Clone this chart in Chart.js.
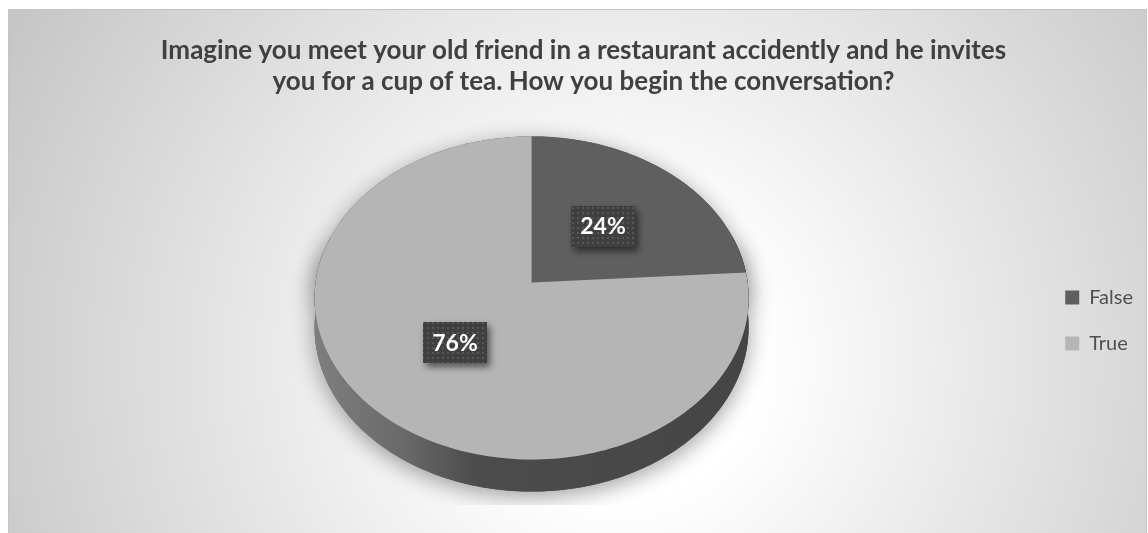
<!DOCTYPE html>
<html lang="en">
<head>
    <meta charset="UTF-8">
    <title>Old Friend Survey</title>
    <script src="https://cdn.jsdelivr.net/npm/chart.js"></script>
    <style>
        html, body { margin: 0; padding: 0; background: #fff; }
        .container { width: 1148px; height: 533px; }
    </style>
</head>
<body>
    <div class="container">
        <canvas id="surveyChart" width="1148" height="533"></canvas>
    </div>
    <script>
        const titleLines = [
            'Imagine you meet your old friend in a restaurant accidently and he invites',
            'you for a cup of tea. How you begin the conversation?'
        ];
        const answers = ['False', 'True'];
        const shares = [24, 76];
        const sliceColors = ['#5f5f5f', '#b5b5b5'];
        // side wall shading, left to right, per slice
        const wallShades = [
            [[0, '#3c3c3c'], [1, '#3a3a3a']],
            [[0, '#7e7e7e'], [0.2, '#6a6a6a'], [0.37, '#4c4c4c'], [1, '#454545']]
        ];

        // tilted pie: vertical squash, perspective growth toward the front, lift and wall height
        const view = { tilt: 0.741, grow: 0.096, lift: -38, depth: 29 };

        function projector(arc) {
            const { x, y, outerRadius } = arc.getProps(['x', 'y', 'outerRadius'], true);
            return (r, a, down = 0) => {
                const u = r * Math.cos(a), v = r * Math.sin(a);
                const s = 1 / (1 - view.grow * v / outerRadius);
                return [x + u * s, y + view.lift + (view.tilt * v + down) * s];
            };
        }

        function traceRim(ctx, p, R, a1, a2, down, first) {
            const steps = Math.max(8, Math.ceil(Math.abs(a2 - a1) * 40));
            for (let i = 0; i <= steps; i++) {
                const [px, py] = p(R, a1 + (a2 - a1) * i / steps, down);
                if (i === 0 && first) ctx.moveTo(px, py); else ctx.lineTo(px, py);
            }
        }

        const backdrop = {
            id: 'backdrop',
            beforeDraw(chart) {
                const { ctx, width, height } = chart;
                ctx.save();
                ctx.fillStyle = '#fff';
                ctx.fillRect(0, 0, width, height);
                const g = ctx.createRadialGradient(620, 360, 140, 620, 360, 720);
                g.addColorStop(0, '#ffffff');
                g.addColorStop(1, '#c3c3c3');
                ctx.fillStyle = g;
                ctx.fillRect(8, 9, width - 9, height - 9);
                ctx.strokeStyle = '#c4c4c4';
                ctx.lineWidth = 1;
                ctx.strokeRect(8.5, 9.5, width - 10, height);
                ctx.restore();
            }
        };

        const tiltedPie = {
            id: 'tiltedPie',
            beforeDatasetsDraw(chart) {
                const { ctx } = chart;
                const arcs = chart.getDatasetMeta(0).data;
                if (!arcs.length) return;
                const p = projector(arcs[0]);
                const { x, outerRadius: R } = arcs[0].getProps(['x', 'outerRadius'], true);
                const front0 = -0.3, front1 = Math.PI + 0.3;

                ctx.save();

                // soft shadow under the pie body
                ctx.save();
                ctx.beginPath();
                ctx.rect(0, 0, chart.width, 505);
                ctx.clip();
                ctx.shadowColor = 'rgba(0,0,0,0.38)';
                ctx.shadowBlur = 22;
                ctx.shadowOffsetY = 5;
                ctx.fillStyle = '#555';
                ctx.beginPath();
                traceRim(ctx, p, R, front0, front1, 0, true);
                traceRim(ctx, p, R, front1, front0, view.depth, false);
                ctx.closePath();
                ctx.fill();
                ctx.beginPath();
                traceRim(ctx, p, R, 0, Math.PI * 2, 0, true);
                ctx.closePath();
                ctx.fill();
                ctx.restore();

                // side walls of the front half
                arcs.forEach((arc, i) => {
                    const { startAngle, endAngle } = arc.getProps(['startAngle', 'endAngle'], true);
                    const a1 = Math.max(startAngle, front0);
                    const a2 = Math.min(endAngle, front1);
                    if (a2 <= a1) return;
                    const g = ctx.createLinearGradient(x - R, 0, x + R, 0);
                    wallShades[i].forEach(([t, c]) => g.addColorStop(t, c));
                    ctx.fillStyle = g;
                    ctx.beginPath();
                    traceRim(ctx, p, R, a1, a2, 0, true);
                    traceRim(ctx, p, R, a2, a1, view.depth, false);
                    ctx.closePath();
                    ctx.fill();
                });

                // top faces
                arcs.forEach((arc) => {
                    const { startAngle, endAngle } = arc.getProps(['startAngle', 'endAngle'], true);
                    const [cx, cy] = p(0, 0);
                    ctx.fillStyle = arc.options.backgroundColor;
                    ctx.beginPath();
                    ctx.moveTo(cx, cy);
                    traceRim(ctx, p, R, startAngle, endAngle, 0, false);
                    ctx.closePath();
                    ctx.fill();
                });

                ctx.restore();
                return false;
            }
        };

        // dotted dark tile behind the percentages
        const dotTile = document.createElement('canvas');
        dotTile.width = 5;
        dotTile.height = 5;
        const dctx = dotTile.getContext('2d');
        dctx.fillStyle = '#3f3f3f';
        dctx.fillRect(0, 0, 5, 5);
        dctx.fillStyle = '#575757';
        dctx.fillRect(2, 2, 2, 2);

        const sliceLabels = {
            id: 'sliceLabels',
            afterDraw(chart) {
                const { ctx } = chart;
                const arcs = chart.getDatasetMeta(0).data;
                if (!arcs.length) return;
                const p = projector(arcs[0]);
                ctx.save();
                ctx.font = 'bold 23px Lato';
                ctx.textAlign = 'center';
                ctx.textBaseline = 'middle';
                arcs.forEach((arc, i) => {
                    const { startAngle, endAngle, outerRadius } = arc.getProps(['startAngle', 'endAngle', 'outerRadius'], true);
                    const [lx, ly] = p(outerRadius * 0.5, (startAngle + endAngle) / 2);
                    const w = 64, h = 41;
                    ctx.save();
                    ctx.shadowColor = 'rgba(0,0,0,0.55)';
                    ctx.shadowBlur = 7;
                    ctx.shadowOffsetX = 3;
                    ctx.shadowOffsetY = 4;
                    ctx.fillStyle = ctx.createPattern(dotTile, 'repeat');
                    ctx.fillRect(Math.round(lx - w / 2), Math.round(ly - h / 2), w, h);
                    ctx.restore();
                    ctx.fillStyle = '#ffffff';
                    ctx.fillText(shares[i] + '%', lx, ly + 1);
                });
                ctx.restore();
            }
        };

        Chart.defaults.font.family = 'Lato';

        new Chart(document.getElementById('surveyChart'), {
            type: 'pie',
            data: {
                labels: answers,
                datasets: [{
                    data: shares,
                    backgroundColor: sliceColors,
                    borderWidth: 0,
                    radius: 216
                }]
            },
            options: {
                responsive: false,
                animation: false,
                layout: { padding: { top: 9, left: 24, right: 5, bottom: 0 } },
                plugins: {
                    title: {
                        display: true,
                        text: titleLines,
                        color: '#404040',
                        font: { family: 'Lato', size: 26, weight: 'bold', lineHeight: 1.19 },
                        padding: { top: 26, bottom: 11 }
                    },
                    legend: {
                        position: 'right',
                        fullSize: false,
                        labels: {
                            boxWidth: 14,
                            boxHeight: 14,
                            padding: 26,
                            color: '#505050',
                            font: { family: 'Lato', size: 20 }
                        }
                    },
                    tooltip: { enabled: false }
                }
            },
            plugins: [backdrop, tiltedPie, sliceLabels]
        });
    </script>
</body>
</html>
